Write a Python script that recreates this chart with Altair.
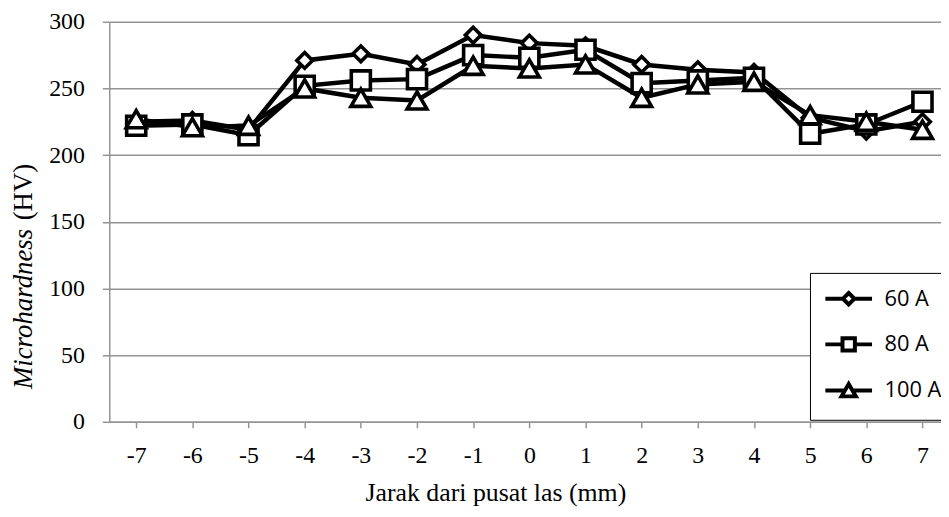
import altair as alt
import pandas as pd

# ---- data ----
positions = [-7, -6, -5, -4, -3, -2, -1, 0, 1, 2, 3, 4, 5, 6, 7]
hv_60 = [225, 226, 219, 271, 276, 268, 290, 284, 282, 268, 264, 262, 228, 218, 225]
hv_80 = [222, 223, 215, 252, 256, 257, 275, 273, 279, 254, 256, 258, 216, 223, 240]
hv_100 = [227, 221, 222, 250, 243, 241, 267, 265, 268, 243, 253, 255, 230, 225, 219]
series_names = ["60 A", "80 A", "100 A"]
y_ticks = [0, 50, 100, 150, 200, 250, 300]

rows = []
for name, vals in zip(series_names, [hv_60, hv_80, hv_100]):
    for p, v in zip(positions, vals):
        rows.append({"pos": p, "hv": v, "series": name})
df = pd.DataFrame(rows)

GRID = "#949494"
SERIF = "Liberation Serif"
TOP = 12
H = 423 - 8 - TOP

x_enc = alt.X(
    "pos:Q",
    scale=alt.Scale(domain=[-7.48, 7.33], nice=False, zero=False),
    axis=alt.Axis(
        values=positions, labelExpr="'' + datum.value", grid=False,
        tickSize=6, tickColor=GRID, tickWidth=1.5,
        domainColor=GRID, domainWidth=1.5,
        labelPadding=16, labelFont=SERIF, labelFontSize=24, labelColor="black",
        labelFlush=False, labelOverlap=False,
        title="Jarak dari pusat las (mm)", titleFont=SERIF, titleFontSize=26,
        titleFontWeight="normal", titleColor="black",
        titleX=389, titleY=79, titleBaseline="alphabetic", titleAlign="center",
    ),
)
y_enc = alt.Y(
    "hv:Q",
    scale=alt.Scale(domain=[0, 300], nice=False),
    axis=alt.Axis(
        values=y_ticks, title=None, grid=True, gridColor=GRID, gridWidth=1.5,
        tickSize=7, tickColor=GRID, tickWidth=1.5,
        domainColor=GRID, domainWidth=1.5,
        labelPadding=18, labelFont=SERIF, labelFontSize=24, labelColor="black",
    ),
)

lines = alt.Chart(df).mark_line(color="black", strokeWidth=4.5).encode(
    x=x_enc, y=y_enc, detail="series:N"
)

marker_spec = {"60 A": ("diamond", 250), "80 A": ("square", 370), "100 A": ("triangle-up", 400)}
point_layers = []
for name in series_names:
    shp, sz = marker_spec[name]
    point_layers.append(
        alt.Chart(df).transform_filter(alt.datum.series == name)
        .mark_point(shape=shp, size=sz, filled=True, fill="white", stroke="black",
                    strokeWidth=3.6, opacity=1)
        .encode(x=x_enc, y=y_enc)
    )

legend_paths = [
    "M-2.94,0H-0.72M0.72,0H2.94M0,-0.72L0.72,0L0,0.72L-0.72,0Z",
    "M-2.94,0H-0.78M0.78,0H2.94M-0.78,-0.78H0.78V0.78H-0.78Z",
    "M-2.94,0.05H-0.45M0.45,0.05H2.94M0,-0.75L0.9,0.8H-0.9Z",
]
legend_layer = (
    alt.Chart(df).transform_filter("datum.pos > 100")
    .mark_point(filled=False, stroke="black", strokeWidth=4, opacity=1)
    .encode(
        x=x_enc, y=y_enc,
        shape=alt.Shape(
            "series:N",
            scale=alt.Scale(domain=series_names, range=legend_paths),
            legend=alt.Legend(
                orient="none", legendX=706, legendY=273 - 8 - TOP, title=None,
                padding=15, symbolOffset=13, labelOffset=25, rowPadding=17,
                symbolSize=256, symbolStrokeWidth=4, symbolStrokeColor="black",
                symbolOpacity=1, labelFont="Open Sans", labelFontSize=22,
                labelColor="black", strokeColor="black", fillColor="white",
            ),
        ),
    )
)

ytitle_a = alt.Chart(pd.DataFrame({"t": ["Microhardness"]})).mark_text(
    angle=270, align="left", baseline="alphabetic", font=SERIF, fontSize=27,
    fontStyle="italic", color="black"
).encode(x=alt.value(-78), y=alt.value(390 - 8 - TOP), text="t:N")
ytitle_b = alt.Chart(pd.DataFrame({"t": ["(HV)"]})).mark_text(
    angle=270, align="left", baseline="alphabetic", font=SERIF, fontSize=27,
    color="black"
).encode(x=alt.value(-78), y=alt.value(220 - 8 - TOP), text="t:N")

chart = alt.layer(lines, *point_layers, legend_layer, ytitle_a, ytitle_b).properties(
    width=838, height=H,
    autosize=alt.AutoSizeParams(type="none"),
    padding={"left": 102, "top": TOP, "right": 0, "bottom": 88},
).configure_view(stroke=None)

chart.save("out.html", embed_options={"renderer": "svg", "actions": False})
